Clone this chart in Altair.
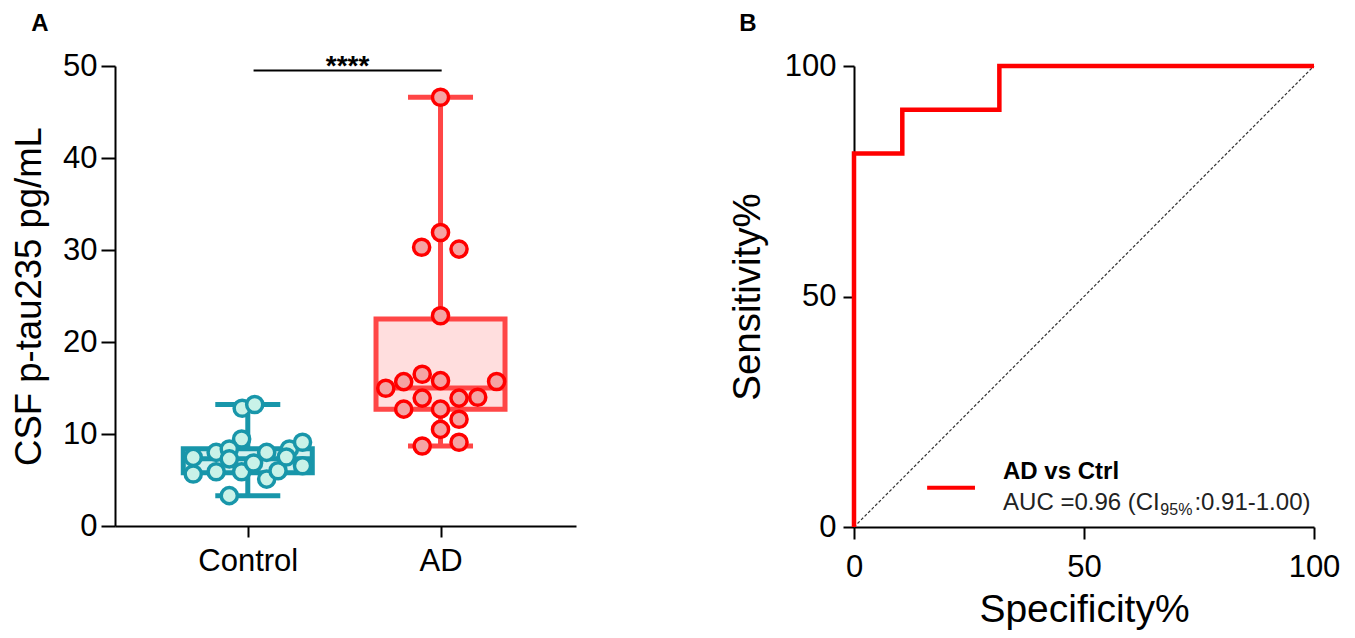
import altair as alt
import pandas as pd

# ---------------- data: panel A ----------------
groups = ["Control", "AD"]
group_pos = [1, 2]

control_values = [12.8, 13.2, 9.46, 7.46, 5.65, 8.0, 8.37, 5.9, 5.9, 6.85,
                  8.0, 5.1, 6.0, 8.37, 9.1, 6.55, 3.3, 7.3, 7.5]
control_jitter = [-0.029, 0.036, -0.032, -0.283, -0.283, -0.164, -0.096, -0.164, -0.032, 0.030,
                  0.098, 0.098, 0.157, 0.216, 0.284, 0.284, -0.096, -0.096, 0.200]

ad_values = [46.6, 31.9, 30.3, 30.1, 22.86, 14.97, 15.69, 16.5, 15.8, 15.7,
             12.7, 13.9, 12.7, 13.9, 14.0, 11.6, 10.5, 8.7, 9.1]
ad_jitter = [0.0, 0.0, -0.098, 0.096, 0.0, -0.284, -0.191, -0.095, 0.0, 0.291,
             -0.191, -0.095, 0.0, 0.096, 0.193, 0.096, 0.0, -0.095, 0.096]

box_min = [3.3, 8.7]
box_q1 = [5.8, 12.7]
box_median = [7.3, 15.0]
box_q3 = [8.4, 22.5]
box_max = [13.2, 46.6]

y_ticks_a = [0, 10, 20, 30, 40, 50]
sig_label = ["****"]
sig_from, sig_to, sig_level, sig_text_level = 1.030, 2.006, 49.5, 49.0

# ---------------- data: panel B ----------------
roc_specificity = [0, 0, 10.5, 31.6, 100]
roc_sensitivity = [0, 81.0, 90.5, 100, 100]
reference_line = [0, 100]
ticks_b = [0, 50, 100]
legend_name = ["AD vs Ctrl"]
auc_parts = ["AUC =0.96 (CI", "95%", ":0.91-1.00)"]
auc_part_x = [32.4, 66.6, 74.0]
auc_part_y = [5.2, 3.6, 5.2]
legend_line_x = [15.9, 26.3]
legend_line_y = 8.5
legend_name_pos = (32.4, 12.0)

FONT = "Liberation Sans"
TEAL = "#1896AA"
TEAL_FILL = "#C9F2E8"
TEAL_BOX = "#D4F1EE"
RED = "#FF0000"
RED_LINE = "#FF4646"
RED_FILL = "#F5A3A3"
RED_BOX = "#FFDEDE"

# ---------------- tables ----------------
pts = pd.DataFrame({
    "group": ["Control"] * len(control_values) + ["AD"] * len(ad_values),
    "value": control_values + ad_values,
    "pos": [group_pos[0] + j for j in control_jitter] + [group_pos[1] + j for j in ad_jitter],
})
box = pd.DataFrame({"group": groups, "pos": group_pos, "min": box_min, "q1": box_q1,
                    "median": box_median, "q3": box_q3, "max": box_max})

xs = alt.Scale(domain=[0.337, 2.677], nice=False, zero=False)
ys = alt.Scale(domain=[0, 50], nice=False, zero=False)
col_line = alt.Scale(domain=groups, range=[TEAL, RED_LINE])
col_box = alt.Scale(domain=groups, range=[TEAL_BOX, RED_BOX])
col_pt_fill = alt.Scale(domain=groups, range=[TEAL_FILL, RED_FILL])
col_pt_stroke = alt.Scale(domain=groups, range=[TEAL, RED])

label_expr = " : ".join([f"datum.value == {p} ? '{g}'" for p, g in zip(group_pos, groups)]) + " : ''"

LABEL_SIZE = 31
x_axis_a = alt.Axis(values=group_pos, labelExpr=label_expr, title=None, tickSize=11,
                    labelPadding=9, labelFontSize=LABEL_SIZE, domainWidth=2, tickWidth=2,
                    labelFlush=False)
y_axis_a = alt.Axis(values=y_ticks_a, title="CSF p-tau235 pg/mL", titleFontSize=36.5,
                    titlePadding=14, tickSize=14, labelPadding=4, labelFontSize=LABEL_SIZE,
                    domainWidth=2, tickWidth=2, labelFlush=False)


def xa(field):
    return alt.X(field, scale=xs, axis=x_axis_a)


def ya(field):
    return alt.Y(field, scale=ys, axis=y_axis_a)


base_box = alt.Chart(box)
whisker = base_box.mark_rule(strokeWidth=5, opacity=1).encode(
    x=xa("pos:Q"), y=ya("min:Q"), y2="max:Q",
    color=alt.Color("group:N", scale=col_line, legend=None),
)
boxes = base_box.mark_bar(size=129, strokeWidth=5, opacity=1).encode(
    x=xa("pos:Q"), y=ya("q1:Q"), y2="q3:Q",
    fill=alt.Fill("group:N", scale=col_box, legend=None),
    stroke=alt.Stroke("group:N", scale=col_line, legend=None),
)
median = base_box.mark_tick(orient="horizontal", size=129, thickness=5, opacity=1).encode(
    x=xa("pos:Q"), y=ya("median:Q"),
    color=alt.Color("group:N", scale=col_line, legend=None),
)
caps = base_box.transform_fold(["min", "max"], as_=["k", "v"]).mark_tick(
    orient="horizontal", size=65, thickness=5, opacity=1).encode(
    x=xa("pos:Q"), y=ya("v:Q"),
    color=alt.Color("group:N", scale=col_line, legend=None),
)
box_layer = alt.layer(whisker, boxes, median, caps)

points = alt.Chart(pts).mark_circle(size=260, strokeWidth=3.5, opacity=1,
                                    fillOpacity=1, strokeOpacity=1).encode(
    x=xa("pos:Q"), y=ya("value:Q"),
    fill=alt.Fill("group:N", scale=col_pt_fill, legend=None),
    stroke=alt.Stroke("group:N", scale=col_pt_stroke, legend=None),
)
sig_df = pd.DataFrame({"x": [sig_from], "x2": [sig_to], "y": [sig_level],
                       "tx": [(sig_from + sig_to) / 2], "ty": [sig_text_level], "t": sig_label})
sig_rule = alt.Chart(sig_df).mark_rule(color="black", strokeWidth=2).encode(
    x=xa("x:Q"), x2="x2:Q", y=ya("y:Q"),
)
sig_text = alt.Chart(sig_df).mark_text(font=FONT, fontSize=28, fontWeight="bold",
                                       baseline="alphabetic", color="black").encode(
    x=xa("tx:Q"), y=ya("ty:Q"), text="t:N",
)
label_a = alt.Chart(pd.DataFrame({"t": ["A"]})).mark_text(
    font=FONT, fontSize=24, fontWeight="bold", baseline="middle", align="center", color="black"
).encode(text="t:N", x=alt.value(-75), y=alt.value(-42.5))

panel_a = alt.layer(box_layer, points, sig_rule, sig_text, label_a).resolve_scale(
    fill="independent", stroke="independent", color="independent"
).properties(width=461, height=460)

# ---------------- panel B ----------------
xb = alt.Scale(domain=[0, 100], nice=False, zero=False)
yb = alt.Scale(domain=[0, 100], nice=False, zero=False)
x_axis_b = alt.Axis(values=ticks_b, title="Specificity%", titleFontSize=39, titlePadding=8,
                    tickSize=12, labelPadding=13, labelFontSize=LABEL_SIZE, domainWidth=2,
                    tickWidth=2, labelFlush=False)
y_axis_b = alt.Axis(values=ticks_b, title="Sensitivity%", titleFontSize=38.5, titlePadding=17,
                    tickSize=11, labelPadding=7, labelFontSize=LABEL_SIZE, domainWidth=2,
                    tickWidth=2, labelFlush=False)


def xbb(field):
    return alt.X(field, scale=xb, axis=x_axis_b)


def ybb(field):
    return alt.Y(field, scale=yb, axis=y_axis_b)


ref_df = pd.DataFrame({"a": reference_line})
diag = alt.Chart(ref_df).mark_line(color="#333333", strokeWidth=1.2, strokeDash=[3, 2]).encode(
    x=xbb("a:Q"), y=ybb("a:Q"),
)
roc_df = pd.DataFrame({"spec": roc_specificity, "sens": roc_sensitivity,
                       "i": list(range(len(roc_specificity)))})
roc = alt.Chart(roc_df).mark_line(interpolate="step-after", color=RED, strokeWidth=4.5).encode(
    x=xbb("spec:Q"), y=ybb("sens:Q"), order="i:Q",
)
leg_df = pd.DataFrame({"x": [legend_line_x[0]], "x2": [legend_line_x[1]], "y": [legend_line_y]})
leg_line = alt.Chart(leg_df).mark_rule(color=RED, strokeWidth=4).encode(
    x=xbb("x:Q"), x2="x2:Q", y=ybb("y:Q"),
)
name_df = pd.DataFrame({"x": [legend_name_pos[0]], "y": [legend_name_pos[1]], "t": legend_name})
leg_name = alt.Chart(name_df).mark_text(font=FONT, fontSize=24, fontWeight="bold", align="left",
                                        baseline="middle", color="black").encode(
    x=xbb("x:Q"), y=ybb("y:Q"), text="t:N")
auc_df = pd.DataFrame({"x": auc_part_x, "y": auc_part_y, "t": auc_parts,
                       "s": [24, 16, 24]})
auc_main = alt.Chart(auc_df).transform_filter("datum.s > 20").mark_text(
    font=FONT, fontSize=24, align="left", baseline="middle", color="#222222").encode(
    x=xbb("x:Q"), y=ybb("y:Q"), text="t:N")
auc_sub = alt.Chart(auc_df).transform_filter("datum.s < 20").mark_text(
    font=FONT, fontSize=16, align="left", baseline="middle", color="#222222").encode(
    x=xbb("x:Q"), y=ybb("y:Q"), text="t:N")
label_b = alt.Chart(pd.DataFrame({"t": ["B"]})).mark_text(
    font=FONT, fontSize=24, fontWeight="bold", baseline="middle", align="center", color="black"
).encode(text="t:N", x=alt.value(-106), y=alt.value(-42.5))

panel_b = alt.layer(diag, roc, leg_line, leg_name, auc_main, auc_sub, label_b).properties(
    width=460, height=461)

chart = alt.hconcat(panel_a, panel_b, spacing=278, bounds="flush").properties(
    padding={"left": 3, "top": 3, "right": 5, "bottom": 5}
).configure_axis(
    labelFont=FONT, titleFont=FONT, titleFontWeight="normal",
    domainColor="black", tickColor="black", labelColor="black", titleColor="black", grid=False,
).configure_view(stroke="transparent")

chart.save("out.html", embed_options={"renderer": "svg", "actions": False})
